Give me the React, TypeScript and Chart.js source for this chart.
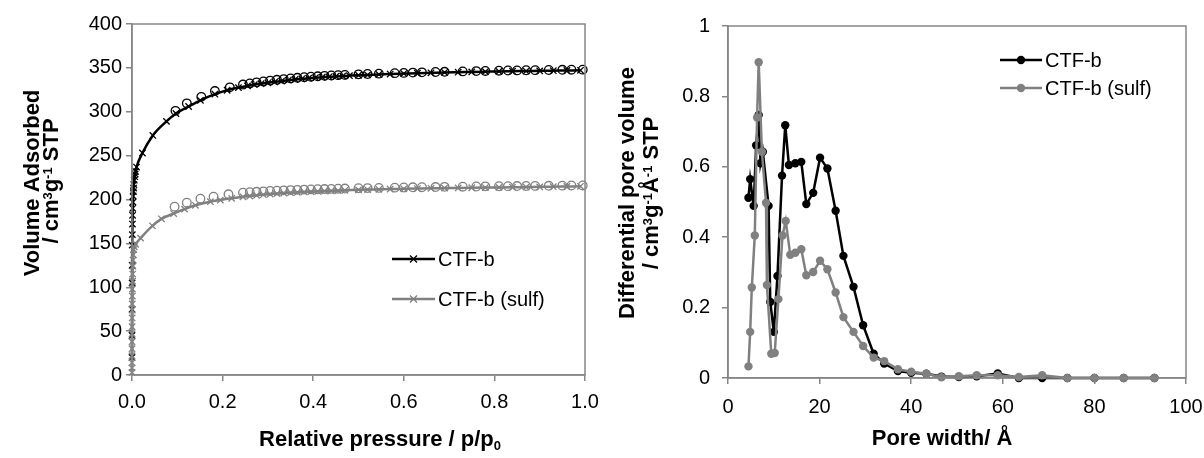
import React, { useEffect, useRef } from 'react';
import { Chart, registerables } from 'chart.js';

Chart.register(...registerables);

// ---------- Left chart: N2 isotherms ----------
const ctfbAdsX = [0.00002, 0.00005, 0.0001, 0.0002, 0.0003, 0.0005, 0.0007, 0.001, 0.0013, 0.0016, 0.002, 0.0025, 0.003, 0.0035, 0.004, 0.005, 0.006, 0.007, 0.008, 0.010, 0.023, 0.046, 0.076, 0.097, 0.125, 0.151, 0.183, 0.21, 0.235, 0.255, 0.27, 0.285, 0.30, 0.315, 0.33, 0.345, 0.36, 0.375, 0.39, 0.405, 0.42, 0.435, 0.45, 0.465, 0.48, 0.50, 0.52, 0.545, 0.57, 0.60, 0.63, 0.66, 0.69, 0.72, 0.75, 0.78, 0.81, 0.84, 0.87, 0.90, 0.93, 0.96, 0.99];
const ctfbAdsY = [20, 45, 75, 105, 125, 148, 160, 172, 182, 190, 197, 204, 209, 213, 217, 222, 226, 229, 232, 237, 253, 273, 289, 298, 306, 313, 320, 324.5, 327.5, 329.5, 331, 332, 333, 334, 335, 336, 336.8, 337.5, 338.2, 338.8, 339.3, 339.8, 340.3, 340.7, 341.1, 341.6, 342, 342.5, 343, 343.5, 344, 344.4, 344.8, 345.1, 345.4, 345.7, 346, 346.2, 346.4, 346.6, 346.8, 347, 347.2];

const ctfbDesX = [0.096, 0.121, 0.153, 0.183, 0.216, 0.245, 0.26, 0.275, 0.29, 0.305, 0.32, 0.335, 0.35, 0.365, 0.38, 0.395, 0.41, 0.425, 0.44, 0.455, 0.47, 0.50, 0.52, 0.545, 0.58, 0.60, 0.62, 0.64, 0.67, 0.69, 0.73, 0.76, 0.78, 0.81, 0.83, 0.85, 0.87, 0.89, 0.92, 0.95, 0.97, 0.995];
const ctfbDesY = [301, 309.6, 317, 323.6, 327.8, 331, 332.3, 333.5, 334.5, 335.5, 336.4, 337.2, 338, 338.7, 339.3, 339.9, 340.4, 340.9, 341.3, 341.7, 342, 342.6, 343, 343.4, 344, 344.3, 344.6, 344.9, 345.3, 345.5, 346, 346.3, 346.5, 346.8, 347, 347.1, 347.3, 347.4, 347.6, 347.8, 347.9, 348];

const sulfAdsX = [0.00001, 0.00002, 0.00003, 0.00005, 0.00007, 0.0001, 0.00015, 0.0002, 0.0003, 0.0004, 0.0005, 0.0007, 0.0009, 0.0012, 0.0015, 0.002, 0.0025, 0.003, 0.004, 0.005, 0.008, 0.019, 0.045, 0.065, 0.092, 0.116, 0.14, 0.173, 0.195, 0.22, 0.245, 0.26, 0.275, 0.29, 0.305, 0.32, 0.335, 0.35, 0.365, 0.38, 0.395, 0.41, 0.425, 0.44, 0.455, 0.47, 0.50, 0.52, 0.545, 0.57, 0.60, 0.63, 0.66, 0.69, 0.72, 0.75, 0.78, 0.81, 0.84, 0.87, 0.90, 0.93, 0.96, 0.99];
const sulfAdsY = [3, 8, 14, 22, 30, 38, 47, 55, 65, 74, 81, 90, 98, 107, 115, 124, 131, 137, 143, 146, 149, 156, 170, 178, 184, 189, 193.4, 197.5, 199.4, 201.3, 203, 204, 204.8, 205.5, 206.2, 206.8, 207.3, 207.8, 208.2, 208.6, 209, 209.3, 209.6, 209.9, 210.2, 210.5, 211, 211.3, 211.6, 211.9, 212.2, 212.5, 212.8, 213, 213.2, 213.4, 213.6, 213.8, 214, 214.2, 214.4, 214.6, 214.8, 215];

const sulfDesX = [0.094, 0.121, 0.151, 0.18, 0.213, 0.245, 0.26, 0.275, 0.29, 0.305, 0.32, 0.335, 0.35, 0.365, 0.38, 0.395, 0.41, 0.425, 0.44, 0.455, 0.47, 0.50, 0.52, 0.545, 0.58, 0.60, 0.62, 0.64, 0.67, 0.69, 0.73, 0.76, 0.78, 0.81, 0.83, 0.85, 0.87, 0.89, 0.92, 0.95, 0.97, 0.995];
const sulfDesY = [191.8, 196.4, 200.9, 203.2, 205.9, 207.7, 208.3, 208.8, 209.3, 209.7, 210.1, 210.4, 210.7, 211, 211.3, 211.5, 211.7, 211.9, 212.1, 212.3, 212.5, 212.8, 213, 213.2, 213.5, 213.7, 213.9, 214, 214.2, 214.4, 214.6, 214.8, 215, 215.1, 215.2, 215.3, 215.4, 215.5, 215.6, 215.8, 216, 216];

// ---------- Right chart: pore size distribution ----------
const ctfbPoreX = [4.46, 4.84, 5.6, 6.15, 6.7, 7.1, 7.6, 8.86, 9.23, 10.0, 10.8, 11.8, 12.5, 13.3, 14.7, 16.0, 17.1, 18.6, 20.1, 21.7, 23.5, 25.2, 27.4, 29.5, 31.8, 34.1, 37.1, 40.0, 43.3, 46.6, 50.4, 54.3, 58.9, 63.5, 68.6, 74.1, 80.0, 86.4, 93.1];
const ctfbPoreY = [0.512, 0.565, 0.489, 0.661, 0.747, 0.61, 0.643, 0.489, 0.216, 0.131, 0.29, 0.575, 0.718, 0.605, 0.61, 0.614, 0.494, 0.526, 0.626, 0.595, 0.475, 0.347, 0.259, 0.15, 0.069, 0.041, 0.02, 0.015, 0.012, 0.004, 0.003, 0.005, 0.013, 0.0, 0.0, 0.0, 0.0, 0.0, 0.0];

const sulfPoreX = [4.47, 4.84, 5.2, 5.85, 6.35, 6.7, 7.4, 8.3, 8.5, 9.45, 10.2, 11.0, 11.9, 12.6, 13.6, 14.7, 16.0, 17.1, 18.6, 20.1, 21.7, 23.5, 25.2, 27.4, 29.5, 31.8, 34.1, 37.1, 40.0, 43.3, 46.6, 50.4, 54.3, 58.9, 63.5, 68.6, 74.1, 80.0, 86.4, 93.1];
const sulfPoreY = [0.033, 0.131, 0.257, 0.405, 0.74, 0.897, 0.643, 0.498, 0.264, 0.069, 0.071, 0.224, 0.405, 0.446, 0.35, 0.356, 0.366, 0.292, 0.301, 0.333, 0.309, 0.243, 0.173, 0.131, 0.091, 0.058, 0.048, 0.025, 0.018, 0.012, 0.002, 0.005, 0.008, 0.008, 0.003, 0.008, 0.0, 0.0, 0.0, 0.0];

const seriesNames = ['CTF-b', 'CTF-b (sulf)'];

const FONT = '"Liberation Sans", Arial, Helvetica, sans-serif';
const AXIS_GREY = '#868686';
const BLACK = '#000000';
const GREY = '#808080';

type Seg = { t: string; k?: 'sup' | 'sub' };

function drawRich(ctx: CanvasRenderingContext2D, segs: Seg[], cx: number, cy: number, size: number, bold: boolean, rotate: boolean) {
  ctx.save();
  ctx.translate(cx, cy);
  if (rotate) ctx.rotate(-Math.PI / 2);
  const base = `${bold ? 'bold ' : ''}${size}px ${FONT}`;
  const small = `${bold ? 'bold ' : ''}${Math.round(size * 0.6)}px ${FONT}`;
  let total = 0;
  const widths = segs.map((s) => {
    ctx.font = s.k ? small : base;
    const w = ctx.measureText(s.t).width;
    total += w;
    return w;
  });
  let x = -total / 2;
  ctx.textBaseline = 'alphabetic';
  ctx.textAlign = 'left';
  ctx.fillStyle = '#000';
  segs.forEach((s, i) => {
    ctx.font = s.k ? small : base;
    const dy = s.k === 'sup' ? -size * 0.26 : s.k === 'sub' ? size * 0.2 : 0;
    ctx.fillText(s.t, x, dy);
    x += widths[i];
  });
  ctx.restore();
}

type LegendItem = { label: string; color: string; marker: 'cross' | 'circle'; y: number };

function drawLegend(ctx: CanvasRenderingContext2D, items: LegendItem[], x1: number, x2: number, textX: number) {
  items.forEach((it) => {
    ctx.save();
    ctx.strokeStyle = it.color;
    ctx.lineWidth = 2.5;
    ctx.beginPath();
    ctx.moveTo(x1, it.y);
    ctx.lineTo(x2, it.y);
    ctx.stroke();
    const mx = (x1 + x2) / 2;
    if (it.marker === 'cross') {
      ctx.lineWidth = 1.3;
      const r = 3.5;
      ctx.beginPath();
      ctx.moveTo(mx - r, it.y - r);
      ctx.lineTo(mx + r, it.y + r);
      ctx.moveTo(mx - r, it.y + r);
      ctx.lineTo(mx + r, it.y - r);
      ctx.stroke();
    } else {
      ctx.fillStyle = it.color;
      ctx.beginPath();
      ctx.arc(mx, it.y, 4.2, 0, Math.PI * 2);
      ctx.fill();
    }
    ctx.fillStyle = '#000';
    ctx.font = `20px ${FONT}`;
    ctx.textAlign = 'left';
    ctx.textBaseline = 'middle';
    ctx.fillText(it.label, textX, it.y + 1);
    ctx.restore();
  });
}

function zip(xs: number[], ys: number[]) {
  return xs.map((x, i) => ({ x, y: ys[i] }));
}

const boxPlugin = {
  id: 'box',
  afterDraw(chart: any) {
    const { ctx, chartArea } = chart;
    ctx.save();
    ctx.strokeStyle = AXIS_GREY;
    ctx.lineWidth = 1.5;
    ctx.strokeRect(chartArea.left, chartArea.top, chartArea.right - chartArea.left, chartArea.bottom - chartArea.top);
    ctx.restore();
  },
};

function axisCommon() {
  return {
    grid: { drawOnChartArea: false, drawTicks: true, tickLength: 6, color: AXIS_GREY, lineWidth: 1.5 },
    border: { color: AXIS_GREY, width: 1.5 },
  };
}

function fitX(h: number) {
  return (s: any) => {
    s.height = h;
    s.paddingLeft = 0;
    s.paddingRight = 0;
  };
}

function fitY(w: number) {
  return (s: any) => {
    s.width = w;
    s.paddingTop = 0;
    s.paddingBottom = 0;
  };
}

function LeftChart() {
  const ref = useRef<HTMLCanvasElement | null>(null);
  useEffect(() => {
    if (!ref.current) return;
    const titlePlugin = {
      id: 'leftTitles',
      afterDraw(chart: any) {
        const ctx = chart.ctx;
        drawRich(ctx, [{ t: 'Volume Adsorbed' }], 39, 183, 22, true, true);
        drawRich(ctx, [{ t: '/ cm' }, { t: '3', k: 'sup' }, { t: 'g' }, { t: '-1', k: 'sup' }, { t: ' STP' }], 57.5, 181, 22, true, true);
        drawRich(ctx, [{ t: 'Relative pressure / p/p' }, { t: '0', k: 'sub' }], 380, 446, 22, true, false);
        drawLegend(ctx, [
          { label: seriesNames[0], color: BLACK, marker: 'cross', y: 259 },
          { label: seriesNames[1], color: GREY, marker: 'cross', y: 299 },
        ], 392, 435, 438);
      },
    };
    const chart = new Chart(ref.current, {
      type: 'line',
      data: {
        datasets: [
          {
            label: seriesNames[1] + ' des',
            data: zip(sulfDesX, sulfDesY),
            showLine: false,
            borderColor: GREY,
            pointStyle: 'circle',
            pointRadius: 4.3,
            pointBorderWidth: 1.3,
            pointBorderColor: GREY,
            pointBackgroundColor: 'rgba(0,0,0,0)',
            clip: false as any,
          },
          {
            label: seriesNames[1],
            data: zip(sulfAdsX, sulfAdsY),
            borderColor: GREY,
            borderWidth: 2.5,
            cubicInterpolationMode: 'monotone',
            pointStyle: 'crossRot',
            pointRadius: 4.5,
            pointBorderWidth: 1.3,
            pointBorderColor: GREY,
            pointBackgroundColor: GREY,
            clip: false as any,
          },
          {
            label: seriesNames[0] + ' des',
            data: zip(ctfbDesX, ctfbDesY),
            showLine: false,
            borderColor: BLACK,
            pointStyle: 'circle',
            pointRadius: 4.3,
            pointBorderWidth: 1.3,
            pointBorderColor: BLACK,
            pointBackgroundColor: 'rgba(0,0,0,0)',
            clip: false as any,
          },
          {
            label: seriesNames[0],
            data: zip(ctfbAdsX, ctfbAdsY),
            borderColor: BLACK,
            borderWidth: 2.5,
            cubicInterpolationMode: 'monotone',
            pointStyle: 'crossRot',
            pointRadius: 4.5,
            pointBorderWidth: 1.3,
            pointBorderColor: BLACK,
            pointBackgroundColor: BLACK,
            clip: false as any,
          },
        ],
      },
      options: {
        animation: false,
        responsive: false,
        maintainAspectRatio: false,
        layout: { padding: { left: 0, right: 17, top: 24, bottom: 0 } },
        plugins: { legend: { display: false }, tooltip: { enabled: false } },
        scales: {
          x: {
            type: 'linear',
            min: 0,
            max: 1,
            ...axisCommon(),
            ticks: {
              stepSize: 0.2,
              color: '#000',
              padding: 9,
              font: { family: FONT, size: 20 },
              callback: (v: any) => Number(v).toFixed(1),
            },
            afterFit: fitX(83),
          },
          y: {
            type: 'linear',
            min: 0,
            max: 400,
            ...axisCommon(),
            ticks: { stepSize: 50, color: '#000', padding: 4, font: { family: FONT, size: 20 } },
            afterFit: fitY(132),
          },
        },
      } as any,
      plugins: [boxPlugin, titlePlugin],
    });
    return () => chart.destroy();
  }, []);
  return <canvas ref={ref} width={602} height={458} style={{ position: 'absolute', left: 0, top: 0, width: 602, height: 458 }} />;
}

function RightChart() {
  const ref = useRef<HTMLCanvasElement | null>(null);
  useEffect(() => {
    if (!ref.current) return;
    const titlePlugin = {
      id: 'rightTitles',
      afterDraw(chart: any) {
        const ctx = chart.ctx;
        drawRich(ctx, [{ t: 'Differential pore volume' }], 32, 193, 22, true, true);
        drawRich(ctx, [{ t: '/ cm' }, { t: '3', k: 'sup' }, { t: 'g' }, { t: '-1', k: 'sup' }, { t: 'Å' }, { t: '-1', k: 'sup' }, { t: ' STP' }], 55.5, 193, 22, true, true);
        drawRich(ctx, [{ t: 'Pore width/ Å' }], 340, 445, 22, true, false);
        drawLegend(ctx, [
          { label: seriesNames[0], color: BLACK, marker: 'circle', y: 60 },
          { label: seriesNames[1], color: GREY, marker: 'circle', y: 88 },
        ], 398, 440, 443);
      },
    };
    const chart = new Chart(ref.current, {
      type: 'line',
      data: {
        datasets: [
          {
            label: seriesNames[1],
            data: zip(sulfPoreX, sulfPoreY),
            borderColor: GREY,
            borderWidth: 2.5,
            pointStyle: 'circle',
            pointRadius: 4.2,
            pointBorderWidth: 0,
            pointBackgroundColor: GREY,
            clip: false as any,
          },
          {
            label: seriesNames[0],
            data: zip(ctfbPoreX, ctfbPoreY),
            borderColor: BLACK,
            borderWidth: 2.5,
            pointStyle: 'circle',
            pointRadius: 4.2,
            pointBorderWidth: 0,
            pointBackgroundColor: BLACK,
            clip: false as any,
          },
        ],
      },
      options: {
        animation: false,
        responsive: false,
        maintainAspectRatio: false,
        layout: { padding: { left: 0, right: 18, top: 26, bottom: 0 } },
        plugins: { legend: { display: false }, tooltip: { enabled: false } },
        scales: {
          x: {
            type: 'linear',
            min: 0,
            max: 100,
            ...axisCommon(),
            ticks: { stepSize: 20, color: '#000', padding: 11, font: { family: FONT, size: 20 } },
            afterFit: fitX(80),
          },
          y: {
            type: 'linear',
            min: 0,
            max: 1,
            ...axisCommon(),
            ticks: {
              stepSize: 0.2,
              color: '#000',
              padding: 12,
              font: { family: FONT, size: 20 },
              callback: (v: any) => String(Math.round(Number(v) * 10) / 10),
            },
            afterFit: fitY(126),
          },
        },
      } as any,
      plugins: [boxPlugin, titlePlugin],
    });
    return () => chart.destroy();
  }, []);
  return <canvas ref={ref} width={602} height={458} style={{ position: 'absolute', left: 602, top: 0, width: 602, height: 458 }} />;
}

export default function App() {
  return (
    <div style={{ position: 'absolute', left: 0, top: 0, width: 1204, height: 458, background: '#fff', overflow: 'hidden' }}>
      <LeftChart />
      <RightChart />
    </div>
  );
}
